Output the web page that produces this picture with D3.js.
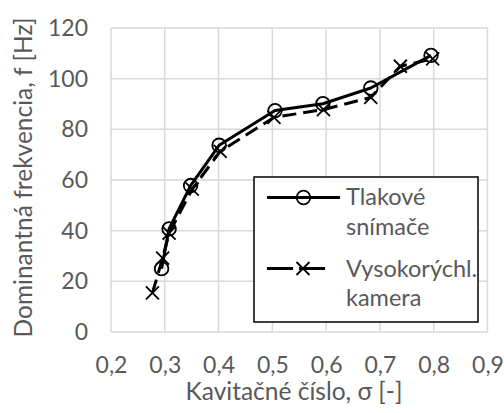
<!DOCTYPE html>
<html>
<head>
<meta charset="utf-8">
<script src="https://cdn.jsdelivr.net/npm/d3@7"></script>
<style>
  html, body { margin: 0; padding: 0; background: #fff; }
  svg { display: block; }
  text { font-family: Lato, "Open Sans", sans-serif; fill: #595959; }
</style>
</head>
<body>
<div id="chart"></div>
<script>
// Tlakové snímače (pressure sensors)
const sigmaPressure = [0.294, 0.308, 0.348, 0.401, 0.505, 0.594, 0.683, 0.795];
const freqPressure  = [25, 40.7, 57.8, 73.7, 87.4, 90.1, 96.3, 109.2];

// Vysokorýchlostná kamera (high-speed camera)
const sigmaCamera = [0.277, 0.296, 0.308, 0.351, 0.403, 0.503, 0.595, 0.683, 0.738, 0.798];
const freqCamera  = [15.4, 29.2, 39, 56.4, 71.3, 84.7, 87.8, 92.6, 104.9, 107.8];

const xTicks = [0.2, 0.3, 0.4, 0.5, 0.6, 0.7, 0.8, 0.9];
const yTicks = [0, 20, 40, 60, 80, 100, 120];

const seriesNames = ["Tlakové snímače", "Vysokorýchl. kamera"];

const width = 504, height = 413;
const margin = { left: 111, right: 16.5, top: 28, bottom: 81 };

const svg = d3.select("#chart").append("svg")
  .attr("width", width).attr("height", height);

const x = d3.scaleLinear().domain([0.2, 0.9]).range([margin.left, width - margin.right]);
const y = d3.scaleLinear().domain([0, 120]).range([height - margin.bottom, margin.top]);

const fmt = d => d3.format(".1f")(d).replace(".", ",");
const FONT = "Lato, 'Open Sans', sans-serif";

// Gridlines
svg.append("g")
  .selectAll("line").data(xTicks).join("line")
  .attr("x1", d => x(d)).attr("x2", d => x(d))
  .attr("y1", y(0)).attr("y2", y(120))
  .attr("stroke", "#d9d9d9").attr("stroke-width", 1.5);
svg.append("g")
  .selectAll("line").data(yTicks).join("line")
  .attr("x1", x(0.2)).attr("x2", x(0.9))
  .attr("y1", d => y(d)).attr("y2", d => y(d))
  .attr("stroke", "#d9d9d9").attr("stroke-width", 1.5);

// Axes (labels only; grid carries the lines)
const xAxis = svg.append("g")
  .attr("transform", `translate(0,${y(0)})`)
  .call(d3.axisBottom(x).tickValues(xTicks).tickFormat(fmt).tickSize(0));
xAxis.select(".domain").remove();
xAxis.selectAll("text")
  .attr("y", 41).attr("dy", 0)
  .attr("font-size", 23).style("font-family", FONT).attr("fill", "#595959");

const yAxis = svg.append("g")
  .attr("transform", `translate(${x(0.2)},0)`)
  .call(d3.axisLeft(y).tickValues(yTicks).tickFormat(d3.format("d")).tickSize(0).tickPadding(23));
yAxis.select(".domain").remove();
yAxis.selectAll("text")
  .attr("font-size", 23).style("font-family", FONT).attr("fill", "#595959");

// Axis titles
svg.append("text")
  .attr("x", 294).attr("y", 400)
  .attr("text-anchor", "middle").attr("font-size", 24.5)
  .text("Kavitačné číslo, σ [-]");
svg.append("text")
  .attr("transform", "translate(32,177.5) rotate(-90)")
  .attr("text-anchor", "middle").attr("font-size", 24.5)
  .text("Dominantná frekvencia, f [Hz]");

const line = d3.line().x(d => x(d[0])).y(d => y(d[1]));
const pressure = d3.zip(sigmaPressure, freqPressure);
const camera = d3.zip(sigmaCamera, freqCamera);

// Camera series: long-dash line with × markers
svg.append("path").datum(camera).attr("d", line)
  .attr("fill", "none").attr("stroke", "#000").attr("stroke-width", 3)
  .attr("stroke-dasharray", "14,7").attr("stroke-linejoin", "round");

const cross = (sel, s) => sel.append("path")
  .attr("d", `M${-s},${-s}L${s},${s}M${-s},${s}L${s},${-s}`)
  .attr("stroke", "#000").attr("stroke-width", 1.8).attr("fill", "none");

svg.append("g").selectAll("g").data(camera).join("g")
  .attr("transform", d => `translate(${x(d[0])},${y(d[1])})`)
  .each(function () { cross(d3.select(this), 6.5); });

// Pressure series: solid line with open circle markers
svg.append("path").datum(pressure).attr("d", line)
  .attr("fill", "none").attr("stroke", "#000").attr("stroke-width", 3)
  .attr("stroke-linejoin", "round");

svg.append("g").selectAll("circle").data(pressure).join("circle")
  .attr("cx", d => x(d[0])).attr("cy", d => y(d[1])).attr("r", 6.8)
  .attr("fill", "none").attr("stroke", "#000").attr("stroke-width", 1.8);

// Legend
const lg = svg.append("g");
lg.append("rect").attr("x", 254).attr("y", 177).attr("width", 224).attr("height", 145)
  .attr("fill", "#fff").attr("stroke", "#000").attr("stroke-width", 1.5);

lg.append("line").attr("x1", 267).attr("x2", 340).attr("y1", 197.5).attr("y2", 197.5)
  .attr("stroke", "#000").attr("stroke-width", 3);
lg.append("circle").attr("cx", 303.5).attr("cy", 197.5).attr("r", 6.8)
  .attr("fill", "none").attr("stroke", "#000").attr("stroke-width", 1.8);

lg.append("line").attr("x1", 267).attr("x2", 330).attr("y1", 268.5).attr("y2", 268.5)
  .attr("stroke", "#000").attr("stroke-width", 3).attr("stroke-dasharray", "26,6");
lg.append("g").attr("transform", "translate(303,268.5)")
  .call(g => cross(g, 6.5));

const legendLines = [
  [seriesNames[0].split(" ")[0], 205],
  [seriesNames[0].split(" ")[1], 235],
  [seriesNames[1].split(" ")[0], 277],
  [seriesNames[1].split(" ")[1], 306]
];
lg.selectAll("text").data(legendLines).join("text")
  .attr("x", 346).attr("y", d => d[1]).attr("font-size", 23.5)
  .text(d => d[0]);
</script>
</body>
</html>
